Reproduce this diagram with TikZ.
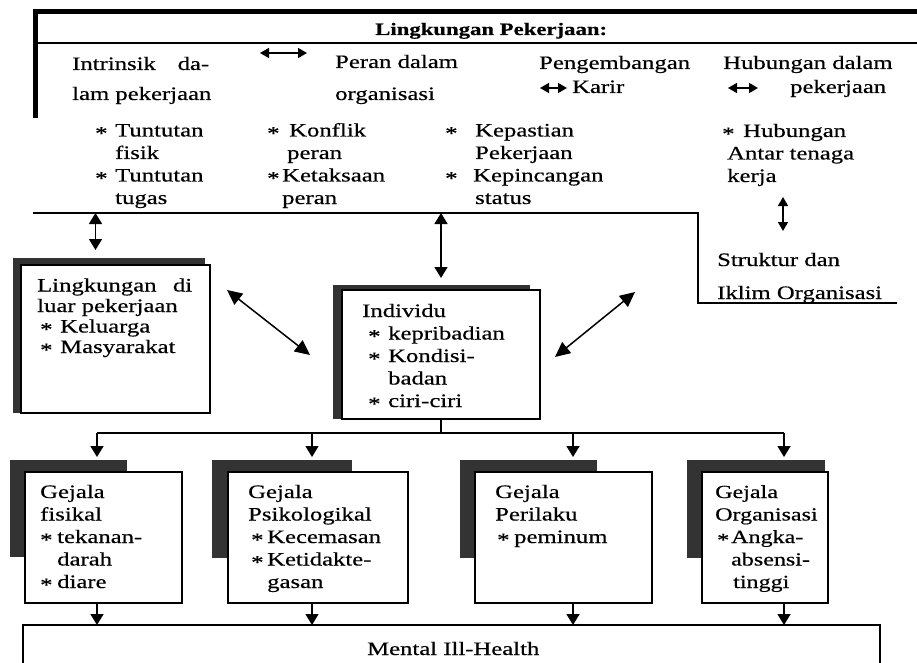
\documentclass[tikz,border=0pt]{standalone}
\usepackage{fontspec}
\setmainfont{Liberation Serif}[FakeStretch=1.3, FakeBold=0.5]
\usetikzlibrary{arrows.meta}

\newcommand{\bul}[1][18pt]{\makebox[#1][l]{\raisebox{-3pt}{*}}}

\begin{document}
\begin{tikzpicture}[
    x=1pt, y=-1pt, font=\fontsize{19}{22.5}\selectfont,
    box/.style={draw, line width=2pt, fill=white, inner sep=0pt,
                outer sep=0pt, anchor=north west},
    shd/.style={fill=black!80},
    txt/.style={align=left, inner sep=0pt, anchor=base west},
    frm/.style={line width=2pt},
    sig/.style={-{Triangle[length=11pt, width=13pt]}, line width=1.5pt},
    dsig/.style={{Triangle[length=11pt, width=13pt]}-{Triangle[length=11pt, width=13pt]},
                 line width=1.5pt},
    hsig/.style={{Triangle[length=9pt, width=10pt]}-{Triangle[length=9pt, width=10pt]},
                 line width=1.5pt},
    dgsig/.style={{Triangle[length=15pt, width=14pt]}-{Triangle[length=15pt, width=14pt]},
                  line width=1.5pt},
]
\useasboundingbox (0,0) rectangle (917,663);

% ===================== Lingkungan pekerjaan =====================
% (multi-line text nodes are anchored at the baseline of their last line)
\draw[line width=5pt] (35,118) -- (35,12) -- (917,12);
\draw[frm] (35,43) -- (917,43);
\coordinate (frL) at (33,213);
\coordinate (frC) at (698,213);
\draw[frm] (frL) -- (frC) -- (698,303) -- (897,303);
\node[txt, font=\fontsize{17.5}{21}\selectfont] (ttl) at (375,35) {\bfseries Lingkungan Pekerjaan:};

\node[txt] (intr) at (72,100) {\makebox[137pt][s]{Intrinsik da-}\\[7.5pt]lam pekerjaan};
\node[txt] (peran) at (335,100) {Peran dalam\\[9.5pt]organisasi};
\node[txt] (peng) at (539,69) {Pengembangan};
\node[txt] (karir) at (572,93) {Karir};
\node[txt] (hubA) at (723,69) {Hubungan dalam};
\node[txt] (pekA) at (790,93) {pekerjaan};

\draw[hsig] (260,53) -- (307,53);
\draw[hsig] (540,88) -- (567,88);
\draw[hsig] (728,88) -- (758,88);

\node[txt] (tunt) at (95,204) {\bul[20pt]Tuntutan\\\hspace*{20pt}fisik\\
  \bul[20pt]Tuntutan\\\hspace*{20pt}tugas};
\node[txt] (konf) at (267,204) {\bul[22pt]Konflik\\\hspace*{20pt}peran\\
  \bul[15pt]Ketaksaan\\\hspace*{15pt}peran};
\node[txt] (kepas) at (445,204) {\bul[30pt]Kepastian\\\hspace*{30pt}Pekerjaan\\
  \bul[28pt]Kepincangan\\\hspace*{30pt}status};
\node[txt] (hubB) at (722,182) {\bul[21pt]Hubungan\\\hspace*{5pt}Antar tenaga\\
  \hspace*{5pt}kerja};

\coordinate (kj) at (783,197);
\coordinate (st) at (783,231);
\draw[hsig] (kj) -- (st);
\node[txt] (struk) at (717,299) {Struktur dan\\[10.5pt]Iklim Organisasi};

% ===================== Lingkungan di luar pekerjaan =====================
\fill[shd] (13,258) rectangle (205,413);
\node[box, minimum width=189pt, minimum height=148pt] (lingk) at (21,265) {};
\node[txt, font=\fontsize{19}{20.5}\selectfont] (lingkT) at (37,353)
  {\makebox[155pt][s]{Lingkungan di}\\luar pekerjaan\\
   \hspace*{3pt}\bul[20pt]Keluarga\\\hspace*{3pt}\bul[20pt]Masyarakat};

% ===================== Individu =====================
\fill[shd] (333,285) rectangle (530,419);
\node[box, minimum width=198pt, minimum height=129pt] (indiv) at (342,290) {};
\node[txt] (indivT) at (362,407)
  {Individu\\\hspace*{6pt}\bul[20pt]kepribadian\\\hspace*{6pt}\bul[20pt]Kondisi-\\
   \hspace*{26pt}badan\\\hspace*{6pt}\bul[20pt]ciri-ciri};

\draw[dsig] ([xshift=-20pt]lingk.north |- frL) -- ([shift={(-20,-15)}]lingk.north);
\draw[dsig] (indiv.north |- frL) -- ([yshift=12pt]indiv.north);
\draw[dgsig] ([shift={(17,25)}]lingk.north east) -- ([shift={(-32,65)}]indiv.north west);
\draw[dgsig] ([shift={(15,67)}]indiv.north east) -- (635,292);

% ===================== Gejala =====================
\fill[shd] (10,460) rectangle (127,557);
\node[box, minimum width=157pt, minimum height=131pt] (fisik) at (25,472) {};
\node[txt] (fisikT) at (40,588) {Gejala\\fisikal\\\bul[17pt]tekanan-\\
  \hspace*{17pt}darah\\\bul[17pt]diare};

\fill[shd] (212,460) rectangle (352,558);
\node[box, minimum width=180pt, minimum height=131pt] (psiko) at (228,472) {};
\node[txt] (psikoT) at (248,588) {Gejala\\Psikologikal\\\hspace*{3pt}\bul[16pt]Kecemasan\\
  \hspace*{3pt}\bul[16pt]Ketidakte-\\\hspace*{19pt}gasan};

\fill[shd] (460,460) rectangle (597,558);
\node[box, minimum width=177pt, minimum height=131pt] (peril) at (475,472) {};
\node[txt] (perilT) at (495,543) {Gejala\\Perilaku\\\hspace*{2pt}\bul[17pt]peminum};

\fill[shd] (687,460) rectangle (825,558);
\node[box, minimum width=126pt, minimum height=131pt] (organ) at (702,472) {};
\node[txt, font=\fontsize{18.5}{22.5}\selectfont] (organT) at (715,588)
  {Gejala\\Organisasi\\\hspace*{2pt}\bul[14pt]Angka-\\
  \hspace*{16pt}absensi-\\\hspace*{18pt}tinggi};

% ===================== Mental Ill-Health =====================
\node[box, minimum width=857pt, minimum height=60pt] (mental) at (23,625) {};
\node[txt] (mentalT) at (367,655) {Mental Ill-Health};

% ===================== Penyebaran ke gejala =====================
\coordinate (c1) at (97,433);
\coordinate (c2) at (312,433);
\coordinate (c3) at (573,433);
\coordinate (c4) at (784,433);
\draw[line width=1.5pt] (indiv.south) -- (indiv.south |- c1);
\draw[line width=1.5pt] (c1) -- (c4);
\draw[sig, shorten >=15pt] (c1) -- (c1 |- fisik.north);
\draw[sig, shorten >=15pt] (c2) -- (c2 |- psiko.north);
\draw[sig, shorten >=15pt] (c3) -- (c3 |- peril.north);
\draw[sig, shorten >=15pt] (c4) -- (c4 |- organ.north);

\draw[sig] (c1 |- fisik.south) -- (c1 |- mental.north);
\draw[sig] (c2 |- psiko.south) -- (c2 |- mental.north);
\draw[sig] (c3 |- peril.south) -- (c3 |- mental.north);
\draw[sig] (c4 |- organ.south) -- (c4 |- mental.north);

\end{tikzpicture}
\end{document}
